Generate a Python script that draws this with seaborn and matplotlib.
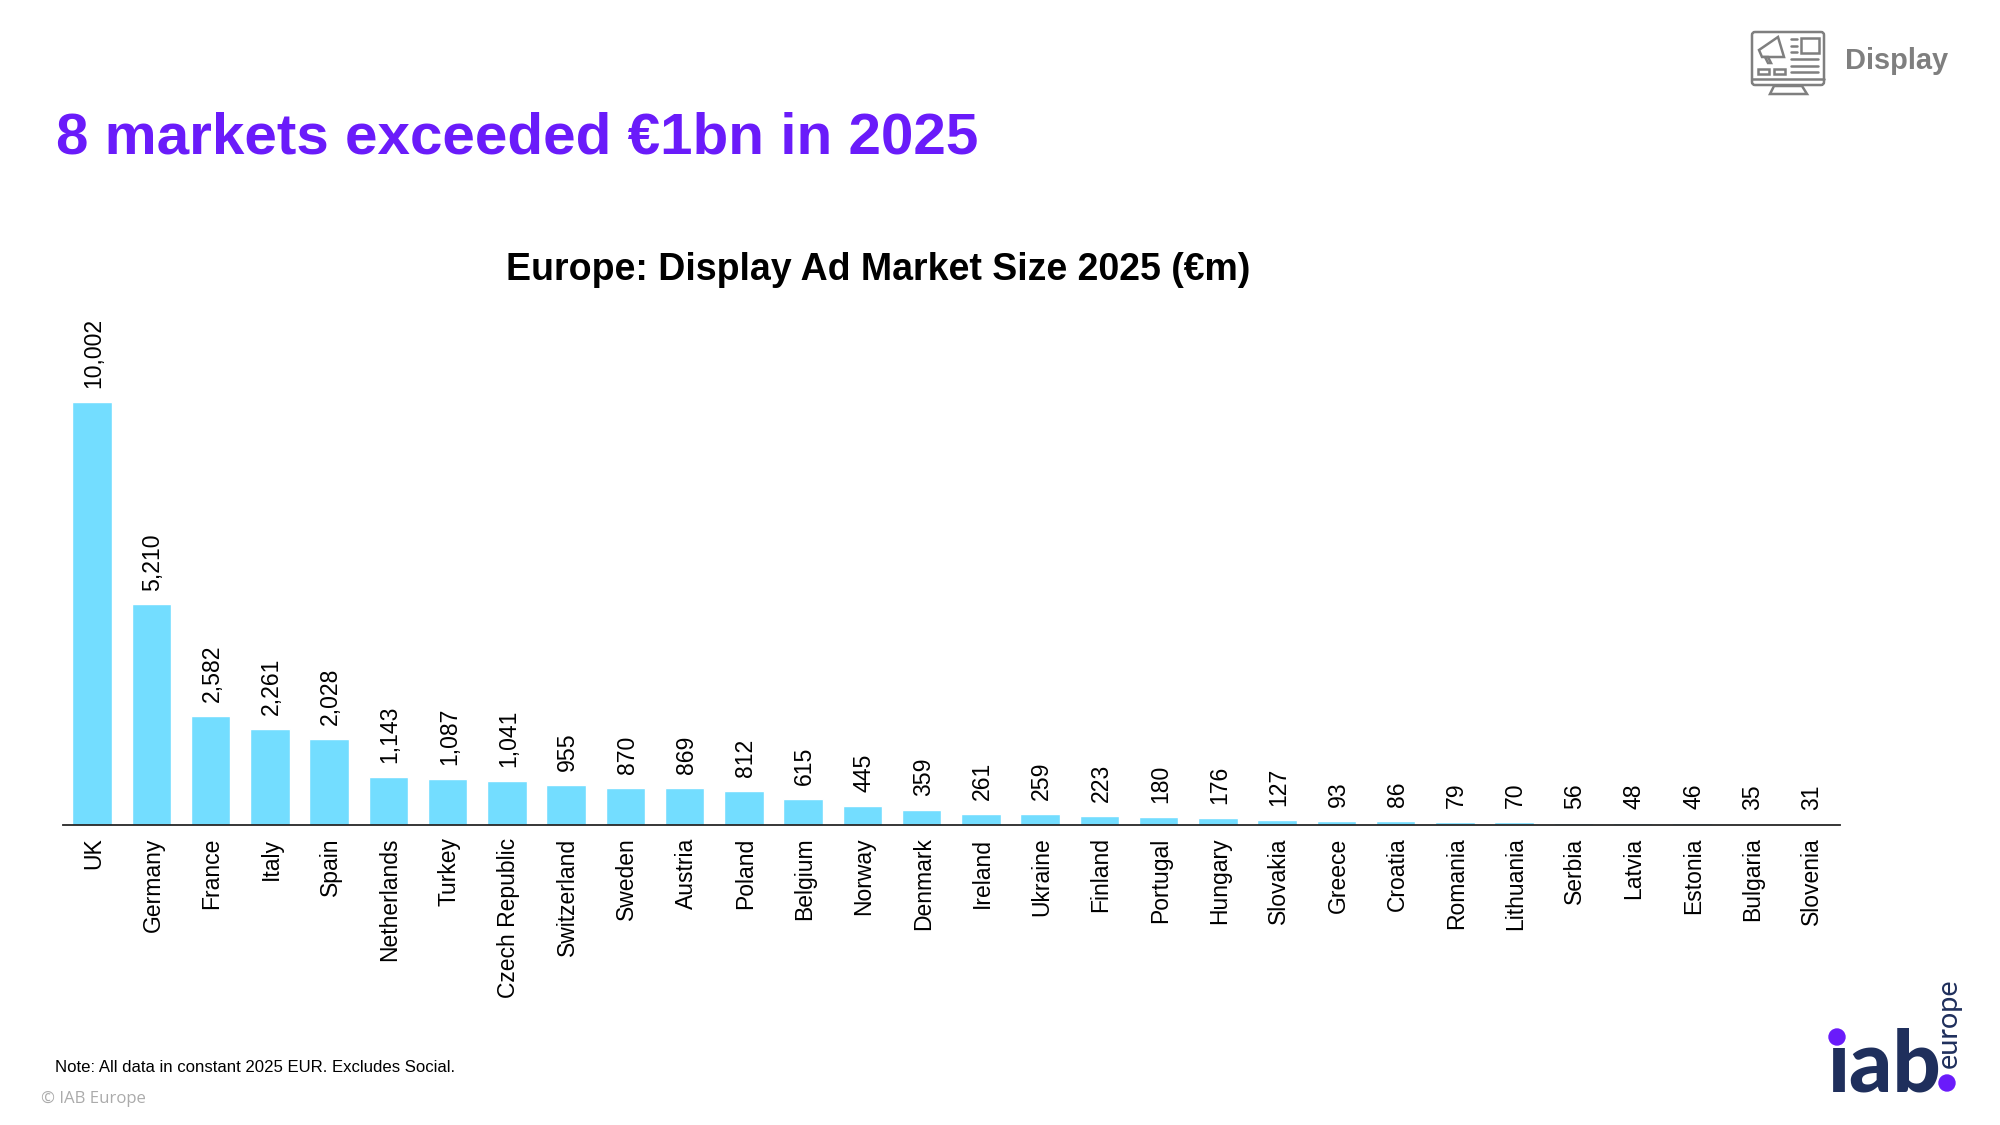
import matplotlib
matplotlib.use("Agg")
import matplotlib.pyplot as plt
from matplotlib.patches import Circle, FancyBboxPatch, Polygon, Rectangle
from matplotlib.transforms import ScaledTranslation
import pandas as pd
import seaborn as sns

# Data
markets = ["UK", "Germany", "France", "Italy", "Spain", "Netherlands", "Turkey",
           "Czech Republic", "Switzerland", "Sweden", "Austria", "Poland", "Belgium",
           "Norway", "Denmark", "Ireland", "Ukraine", "Finland", "Portugal", "Hungary",
           "Slovakia", "Greece", "Croatia", "Romania", "Lithuania", "Serbia", "Latvia",
           "Estonia", "Bulgaria", "Slovenia"]
market_size = [10002, 5210, 2582, 2261, 2028, 1143, 1087, 1041, 955, 870, 869, 812, 615,
               445, 359, 261, 259, 223, 180, 176, 127, 93, 86, 79, 70, 56, 48, 46, 35, 31]

PURPLE = "#6A1BFA"
NAVY = "#1F2F5C"
GREY = "#7F7F7F"
BAR = "#73DDFF"

sns.set_theme(style="white")
plt.rcParams["font.family"] = ["Liberation Sans", "DejaVu Sans"]

fig = plt.figure(figsize=(20, 11.25), dpi=100)

# Chart area, x range spans the full baseline
ax = fig.add_axes([62.5 / 2000, 1 - 825 / 1125, (1840 - 62.5) / 2000, 508 / 1125])
df = pd.DataFrame({"market": markets, "size": market_size})
sns.barplot(data=df, x="market", y="size", color=BAR, saturation=1, width=0.665, ax=ax)
ax.set_xlim(-0.5, len(markets) - 0.5)
ax.set_ylim(0, 12000)
ax.set_xlabel("")
ax.set_ylabel("")
ax.set_yticks([])
ax.tick_params(axis="x", length=0, pad=9, labelsize=16.5, labelcolor="black", labelrotation=90)
sns.despine(ax=ax, left=True)
ax.spines["bottom"].set_color("#262626")
ax.spines["bottom"].set_linewidth(1.3)
ax.patch.set_alpha(0)
value_labels = ax.bar_label(ax.containers[0], fmt=lambda v: f"{v:,.0f}", rotation=90,
                            padding=10, fontsize=16.6, color="black")

# Nudge rotated labels onto the bar centres
for lab in value_labels:
    lab.xyann = (1.2, lab.xyann[1])
for lab in ax.get_xticklabels():
    lab.set_transform(lab.get_transform() + ScaledTranslation(1.5 / 100, 0, fig.dpi_scale_trans))

# Slide furniture, drawn in pixel coordinates
ov = fig.add_axes([0, 0, 1, 1], zorder=5)
ov.set_xlim(0, 2000)
ov.set_ylim(1125, 0)
ov.axis("off")

ov.text(56, 153, "8 markets exceeded €1bn in 2025", fontsize=42, fontweight="bold",
        color=PURPLE, va="baseline")
ov.text(878.5, 280, "Europe: Display Ad Market Size 2025 (€m)", fontsize=27, fontweight="bold",
        color="black", ha="center", va="baseline")
ov.text(55, 1072, "Note: All data in constant 2025 EUR. Excludes Social.", fontsize=12.1,
        color="black", va="baseline")
ov.text(41, 1103, "© IAB Europe", fontsize=12.1, color="#ABABAB", va="baseline",
        family=["Open Sans", "DejaVu Sans"])
ov.text(1845, 69, "Display", fontsize=20.9, fontweight="bold", color=GREY, va="baseline")

# Display icon
lw = 1.8
ov.add_patch(FancyBboxPatch((1752, 32), 72, 53, boxstyle="round,pad=0,rounding_size=3",
                            fill=False, ec=GREY, lw=lw))
ov.plot([1752, 1824], [79, 79], color=GREY, lw=lw)
ov.add_patch(Polygon([(1774, 86), (1770, 94), (1807, 94), (1802, 86)], closed=True,
                     fill=False, ec=GREY, lw=lw))
ov.add_patch(Rectangle((1801, 38), 18, 15, fill=False, ec=GREY, lw=lw))
for y, x0, x1 in [(39, 1791, 1797), (46, 1791, 1797), (52, 1791, 1797),
                  (59, 1791, 1818), (66, 1791, 1818), (72, 1791, 1818)]:
    ov.plot([x0, x1], [y, y], color=GREY, lw=lw)
ov.add_patch(Rectangle((1758, 69), 11, 5, fill=False, ec=GREY, lw=lw))
ov.add_patch(Rectangle((1774, 69), 11, 5, fill=False, ec=GREY, lw=lw))
ov.add_patch(Polygon([(1759, 50), (1778, 37), (1784, 57), (1762, 57)], closed=True,
                     fill=False, ec=GREY, lw=lw))
ov.add_patch(Polygon([(1765, 57), (1768, 63), (1771, 63), (1768, 57)], closed=True,
                     fill=False, ec=GREY, lw=lw))

# Logo: the purple dot replaces the dot of the i, so it goes above the text
ov.text(1827, 1091, "iab", fontsize=61, fontweight="black", color=NAVY, va="baseline",
        family=["Lato", "DejaVu Sans"])
ov.add_patch(Circle((1837, 1029), 14, color="white", zorder=4))
ov.add_patch(Circle((1837, 1037), 8, color=PURPLE, zorder=5))
ov.add_patch(Circle((1947, 1083), 8, color=PURPLE, zorder=5))
ov.text(1957, 1068, "europe", fontsize=20.8, color=NAVY, rotation=90, ha="left", va="baseline",
        rotation_mode="anchor", family=["Lato", "DejaVu Sans"])

fig.savefig("out.png", dpi=100)
